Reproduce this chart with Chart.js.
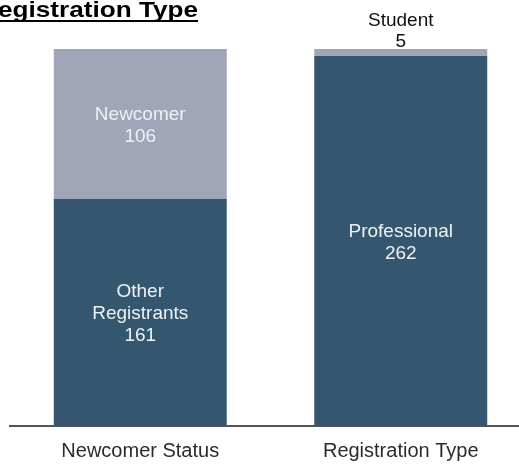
<!DOCTYPE html>
<html>
<head>
<meta charset="utf-8">
<script src="https://cdn.jsdelivr.net/npm/chart.js@4/dist/chart.umd.min.js"></script>
<style>
  html, body { margin: 0; padding: 0; background: #fff; overflow: hidden; }
  #wrap { width: 519px; height: 466px; overflow: hidden; }
  canvas { display: block; }
</style>
</head>
<body>
<div id="wrap"><canvas id="chart" width="531" height="466"></canvas></div>
<script>
// data
const categories = ["Newcomer Status", "Registration Type"];
const lowerValues = [161, 262];
const upperValues = [106, 5];
const lowerNames = [["Other", "Registrants"], ["Professional"]];
const upperNames = [["Newcomer"], ["Student"]];
const titleText = "Registration Type";

const dark = '#34576f';
const light = '#a0a6b8';
const FONT = '"Liberation Sans", Arial, sans-serif';

// segment labels: name lines + value, white inside, black above if too thin
const segLabels = {
  id: 'segLabels',
  afterDatasetsDraw(chart) {
    const ctx = chart.ctx;
    const names = [lowerNames, upperNames];
    ctx.save();
    ctx.font = '19px ' + FONT;
    ctx.textAlign = 'center';
    ctx.textBaseline = 'alphabetic';
    chart.data.datasets.forEach((ds, di) => {
      chart.getDatasetMeta(di).data.forEach((bar, i) => {
        const lines = names[di][i].concat([String(ds.data[i])]);
        const lh = 22;
        const h = bar.base - bar.y;
        if (h > lines.length * lh) {
          ctx.fillStyle = '#eef1f4';
          const mid = (bar.y + bar.base) / 2;
          let y0 = mid - (lines.length - 1) * lh / 2 + 7;
          lines.forEach((t, k) => ctx.fillText(t, bar.x, y0 + k * lh));
        } else {
          ctx.fillStyle = '#111';
          let yb = bar.y - 2;
          for (let k = lines.length - 1; k >= 0; k--) {
            ctx.fillText(lines[k], bar.x, yb);
            yb -= 21;
          }
        }
      });
    });
    ctx.restore();
  }
};

// cropped, underlined title at the top left
const cutTitle = {
  id: 'cutTitle',
  afterDraw(chart) {
    const ctx = chart.ctx;
    ctx.save();
    ctx.font = 'bold 22px ' + FONT;
    const full = ctx.measureText(titleText).width;
    const part = ctx.measureText(titleText.slice(1)).width;
    const sx = 200 / part;
    ctx.translate(198, 17);
    ctx.scale(sx, 1);
    ctx.textAlign = 'right';
    ctx.fillStyle = '#000';
    ctx.fillText(titleText, 0, 0);
    ctx.fillRect(-full, 3, full, 2);
    ctx.restore();
  }
};

new Chart(document.getElementById('chart'), {
  type: 'bar',
  data: {
    labels: categories,
    datasets: [
      { label: 'lower', data: lowerValues, backgroundColor: dark },
      { label: 'upper', data: upperValues, backgroundColor: light }
    ]
  },
  options: {
    responsive: false,
    animation: false,
    layout: { padding: { top: 49, left: 10, right: 0, bottom: -10 } },
    datasets: { bar: { categoryPercentage: 1, barPercentage: 0.664 } },
    plugins: {
      legend: { display: false },
      tooltip: { enabled: false },
      title: { display: false }
    },
    scales: {
      x: {
        stacked: true,
        grid: { display: false, drawTicks: false },
        border: { display: true, color: '#555', width: 2 },
        ticks: { color: '#2b2b2b', font: { family: FONT, size: 20 }, padding: 13 }
      },
      y: {
        stacked: true,
        display: false,
        min: 0,
        max: 267
      }
    }
  },
  plugins: [segLabels, cutTitle]
});
</script>
</body>
</html>
